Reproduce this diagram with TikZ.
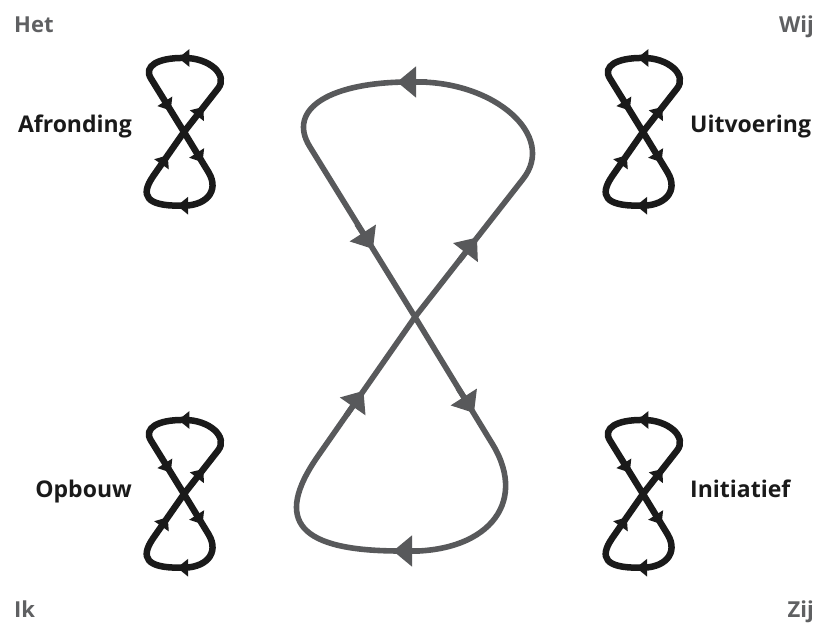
\documentclass[tikz,border=0pt]{standalone}
\usepackage{fontspec}
\setmainfont{Open Sans}
\usepackage{xcolor}
\usepackage{tikz}
\usetikzlibrary{arrows.meta, positioning}

\definecolor{loopgray}{HTML}{58595B}
\definecolor{loopblack}{HTML}{1A1A1A}
\definecolor{cornergray}{HTML}{5F6062}

\begin{document}
\begin{tikzpicture}[
  x=1pt, y=1pt,
  looptip/.style={-{Triangle[length=19pt, width=30pt]}},
  bigloop/.style={color=loopgray, line width=5.6pt},
  smallloop/.style={scale=0.315, color=loopblack, line width=6.5pt,
    looptip/.style={-{Triangle[length=11pt, width=17pt]}}},
  corner/.style={font=\bfseries\fontsize{22}{26}\selectfont, text=cornergray, inner sep=0pt},
  phase/.style={font=\bfseries\fontsize{23}{27}\selectfont, text=loopblack, inner sep=0pt},
  eight/.pic={
    \draw[line join=round] (0,0) -- (108,138) .. controls (142,181) and (80,236) .. (0,235)
      .. controls (-85,236) and (-129,208) .. (-105,170) -- (0,0)
      -- (78,-128) .. controls (114,-188) and (70,-238) .. (-15,-234)
      .. controls (-115,-234) and (-143,-205) .. (-97,-139) -- cycle;
    % arrow heads along the loop
    \draw[looptip] (12,235) -- (-18,235);
    \draw[looptip] (-58,93) -- (-42,68);
    \draw[looptip] (43,-71) -- (59,-96);
    \draw[looptip] (5,-234) -- (-22,-234);
    \draw[looptip] (-68.6,-98.4) -- (-51.5,-73.8);
    \draw[looptip] (44,56) -- (62,79.5);
  },
]
\useasboundingbox (0,0) rectangle (824,623);

% Big loop in the middle
\pic[bigloop] (main) at (415,306) {eight};

% Small loops, one per quadrant
\pic[smallloop] (afr) at (184,491) {eight};
\pic[smallloop] (uit) at (643,491) {eight};
\pic[smallloop] (opb) at (184,129) {eight};
\pic[smallloop] (ini) at (643,129) {eight};

% Phase labels
\node[phase, anchor=base east] (afronding) at (132,490) {Afronding};
\node[phase, anchor=base west] (uitvoering) at (690,490) {Uitvoering};
\node[phase, anchor=base east] (opbouw) at (132,125) {Opbouw};
\node[phase, anchor=base west] (initiatief) at (690,125) {Initiatief};

% Corners
\node[corner, anchor=base west] (het) at (14,590) {Het};
\node[corner, anchor=base east] (wij) at (814,590) {Wij};
\node[corner, anchor=base west] (ik) at (14,5) {Ik};
\node[corner, anchor=base east] (zij) at (814,5) {Zij};

\end{tikzpicture}
\end{document}
